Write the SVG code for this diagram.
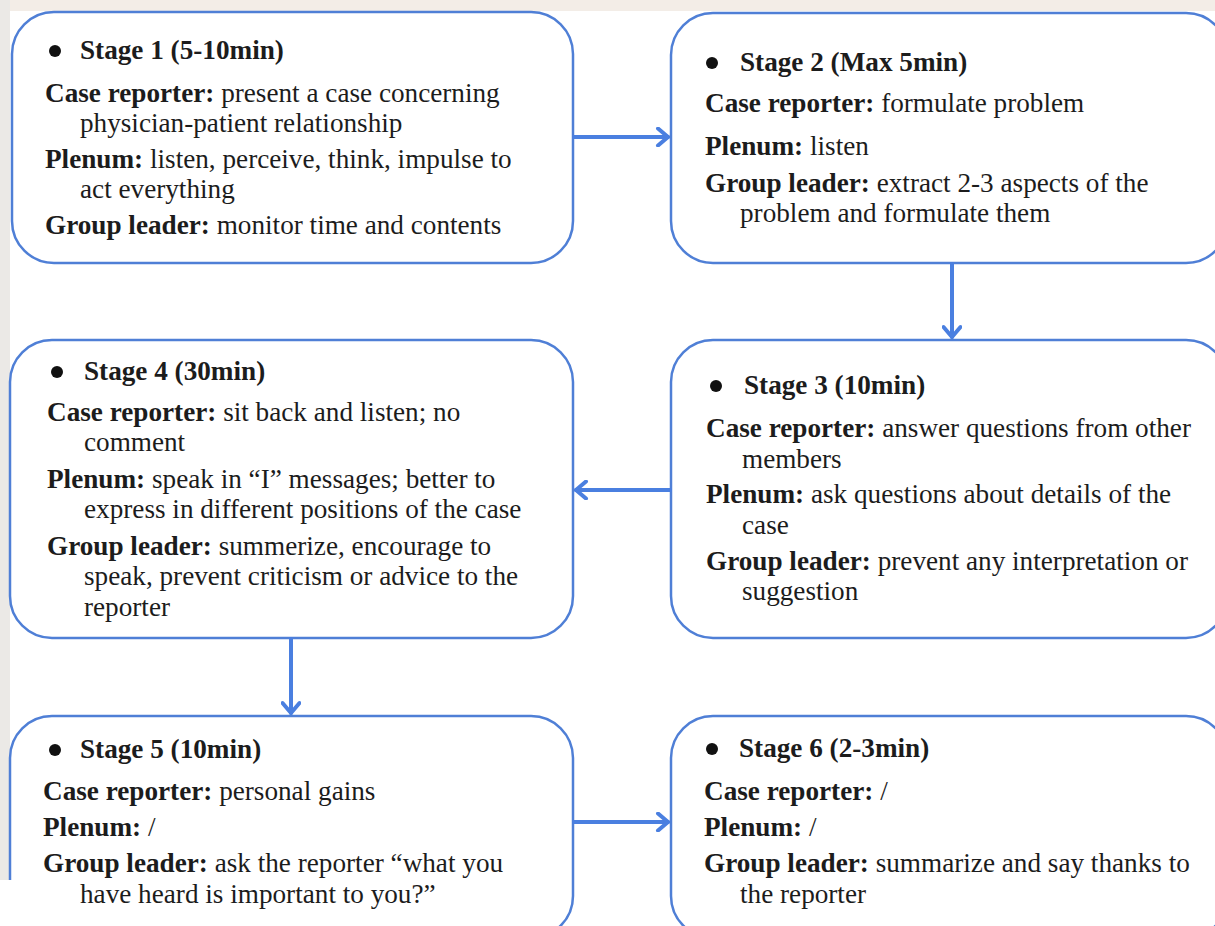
<svg xmlns="http://www.w3.org/2000/svg" width="1215" height="926" viewBox="0 0 1215 926">
<style>
.box{fill:#ffffff;stroke:#4f7fd6;stroke-width:2.5}
.t{font-family:"Liberation Serif","Times New Roman",serif;font-size:27.2px;fill:#1c1c1c}
.b{font-weight:bold}
.dot{fill:#111}
.conn{fill:none;stroke:#4a7fe0;stroke-width:4;stroke-linecap:round}
</style>
<defs>
<marker id="arr" markerUnits="userSpaceOnUse" viewBox="0 0 20 20" markerWidth="20" markerHeight="20" refX="18" refY="10" orient="auto">
<path d="M8,1.5 L18,10 L8,18.5" fill="none" stroke="#4a7fe0" stroke-width="4" stroke-linecap="round" stroke-linejoin="round"/>
</marker>
</defs>
<rect x="0" y="0" width="1215" height="926" fill="#ffffff"/>
<rect x="0" y="0" width="1215" height="11" fill="#f3ede7"/>
<rect x="0" y="0" width="10" height="880" fill="#ebe9e6"/>

<g id="stage1">
<rect class="box" x="12" y="12" width="561" height="251" rx="42"/>
<circle class="dot" cx="55" cy="51" r="6"/>
<text class="t b" x="80" y="59">Stage 1 (5-10min)</text>
<text class="t" x="45" y="102"><tspan class="b">Case reporter:</tspan> present a case concerning</text>
<text class="t" x="80" y="132">physician-patient relationship</text>
<text class="t" x="45" y="168"><tspan class="b">Plenum:</tspan> listen, perceive, think, impulse to</text>
<text class="t" x="80" y="198">act everything</text>
<text class="t" x="45" y="234"><tspan class="b">Group leader:</tspan> monitor time and contents</text>
</g>

<g id="stage2">
<rect class="box" x="671" y="13" width="557" height="250" rx="42"/>
<circle class="dot" cx="712" cy="63" r="6"/>
<text class="t b" x="740" y="71">Stage 2 (Max 5min)</text>
<text class="t" x="705" y="112"><tspan class="b">Case reporter:</tspan> formulate problem</text>
<text class="t" x="705" y="155"><tspan class="b">Plenum:</tspan> listen</text>
<text class="t" x="705" y="192"><tspan class="b">Group leader:</tspan> extract 2-3 aspects of the</text>
<text class="t" x="740" y="222">problem and formulate them</text>
</g>

<g id="stage3">
<rect class="box" x="671" y="340" width="557" height="298" rx="42"/>
<circle class="dot" cx="716" cy="386" r="6"/>
<text class="t b" x="744" y="394">Stage 3 (10min)</text>
<text class="t" x="706" y="437"><tspan class="b">Case reporter:</tspan> answer questions from other</text>
<text class="t" x="742" y="468">members</text>
<text class="t" x="706" y="503"><tspan class="b">Plenum:</tspan> ask questions about details of the</text>
<text class="t" x="742" y="534">case</text>
<text class="t" x="706" y="570"><tspan class="b">Group leader:</tspan> prevent any interpretation or</text>
<text class="t" x="742" y="600">suggestion</text>
</g>

<g id="stage4">
<rect class="box" x="10" y="340" width="563" height="298" rx="42"/>
<circle class="dot" cx="57" cy="372" r="6"/>
<text class="t b" x="84" y="380">Stage 4 (30min)</text>
<text class="t" x="47" y="421"><tspan class="b">Case reporter:</tspan> sit back and listen; no</text>
<text class="t" x="84" y="451">comment</text>
<text class="t" x="47" y="488"><tspan class="b">Plenum:</tspan> speak in “I” messages; better to</text>
<text class="t" x="84" y="518">express in different positions of the case</text>
<text class="t" x="47" y="555"><tspan class="b">Group leader:</tspan> summerize, encourage to</text>
<text class="t" x="84" y="585">speak, prevent criticism or advice to the</text>
<text class="t" x="84" y="616">reporter</text>
</g>

<g id="stage5">
<rect class="box" x="10" y="716" width="563" height="222" rx="42"/>
<rect x="0" y="880" width="60" height="46" fill="#ffffff"/>
<circle class="dot" cx="55" cy="750" r="6"/>
<text class="t b" x="80" y="758">Stage 5 (10min)</text>
<text class="t" x="43" y="800"><tspan class="b">Case reporter:</tspan> personal gains</text>
<text class="t" x="43" y="836"><tspan class="b">Plenum:</tspan> /</text>
<text class="t" x="43" y="872"><tspan class="b">Group leader:</tspan> ask the reporter “what you</text>
<text class="t" x="80" y="903">have heard is important to you?”</text>
</g>

<g id="stage6">
<rect class="box" x="671" y="716" width="557" height="222" rx="42"/>
<circle class="dot" cx="712" cy="749" r="6"/>
<text class="t b" x="739" y="757">Stage 6 (2-3min)</text>
<text class="t" x="704" y="800"><tspan class="b">Case reporter:</tspan> /</text>
<text class="t" x="704" y="836"><tspan class="b">Plenum:</tspan> /</text>
<text class="t" x="704" y="872"><tspan class="b">Group leader:</tspan> summarize and say thanks to</text>
<text class="t" x="740" y="903">the reporter</text>
</g>

<g id="connectors">
<path class="conn" d="M574,137 L668,137" marker-end="url(#arr)"/>
<path class="conn" d="M952,264 L952,337" marker-end="url(#arr)"/>
<path class="conn" d="M670,490 L576,490" marker-end="url(#arr)"/>
<path class="conn" d="M291,639 L291,713" marker-end="url(#arr)"/>
<path class="conn" d="M574,822 L668,822" marker-end="url(#arr)"/>
</g>
</svg>
